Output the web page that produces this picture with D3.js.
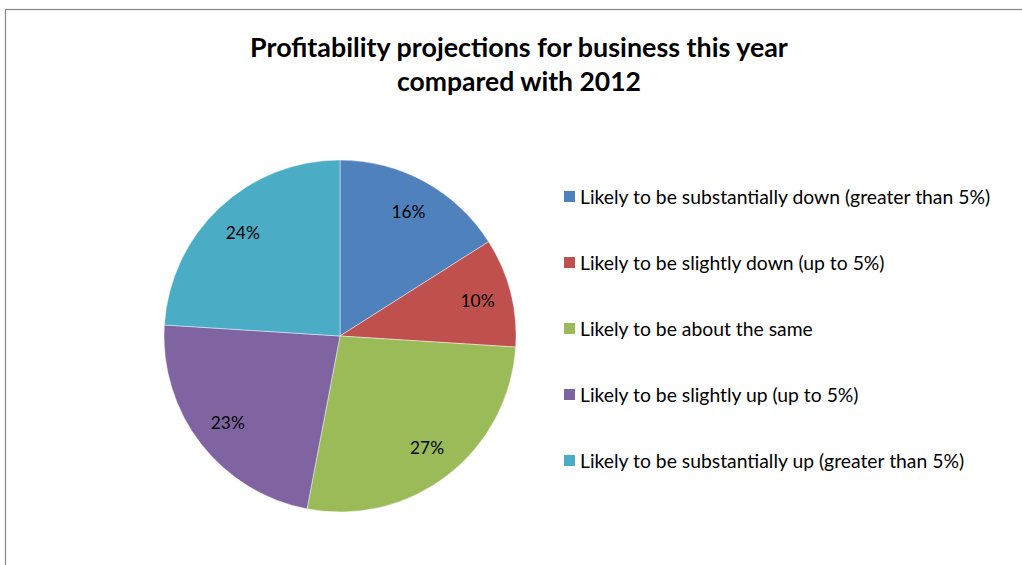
<!DOCTYPE html>
<html>
<head>
<meta charset="utf-8">
<script src="https://cdn.jsdelivr.net/npm/d3@7"></script>
<style>
  html, body { margin: 0; padding: 0; background: #fff; }
  svg { display: block; }
</style>
</head>
<body>
<svg id="chart" width="1022" height="565"></svg>
<script>
// Survey answers, in drawing order (clockwise from 12 o'clock)
const categories = [
  "Likely to be substantially down (greater than 5%)",
  "Likely to be slightly down (up to 5%)",
  "Likely to be about the same",
  "Likely to be slightly up (up to 5%)",
  "Likely to be substantially up (greater than 5%)"
];
const shares = [16, 10, 27, 23, 24];
const palette = ["#4F81BD", "#C0504D", "#9BBB59", "#8064A2", "#4BACC6"];
const titleLines = ["Profitability projections for business this year", "compared with 2012"];

const FONT = "Lato, 'Open Sans', 'Noto Sans', sans-serif";
const svg = d3.select("#chart");

// Chart frame (only the top and left edges fall inside the view)
svg.append("rect")
  .attr("x", 5.5).attr("y", 9.5)
  .attr("width", 1040).attr("height", 600)
  .attr("fill", "#fff")
  .attr("stroke", "#878787").attr("stroke-width", 1.2);

// Fit a text element's width by adjusting its font size
function fitWidth(sel, target) {
  const node = sel.node();
  const fs = parseFloat(sel.attr("font-size"));
  const w = node.getComputedTextLength();
  if (w > 0) sel.attr("font-size", (fs * target / w).toFixed(2));
}

// Title
const titleY = [57, 91];
const titleWidths = [538, 244];
titleLines.forEach((t, i) => {
  const el = svg.append("text")
    .attr("x", 519).attr("y", titleY[i])
    .attr("text-anchor", "middle")
    .attr("font-family", FONT)
    .attr("font-weight", "bold")
    .attr("font-size", 22)
    .attr("fill", "#000")
    .text(t);
  fitWidth(el, titleWidths[i]);
});

// Pie
const cx = 340, cy = 336, R = 176;
const pie = d3.pie().sort(null).value(d => d);
const arcs = pie(shares);
const arc = d3.arc().innerRadius(0).outerRadius(R);
const labelArc = d3.arc().innerRadius(142).outerRadius(142);

const g = svg.append("g").attr("transform", `translate(${cx},${cy})`);
g.selectAll("path.slice")
  .data(arcs)
  .join("path")
  .attr("class", "slice")
  .attr("d", arc)
  .attr("fill", (d, i) => palette[i])
  .attr("stroke", "rgba(255,255,255,0.55)")
  .attr("stroke-width", 0.8);

const pctTexts = g.selectAll("text.pct")
  .data(arcs)
  .join("text")
  .attr("class", "pct")
  .attr("transform", d => `translate(${labelArc.centroid(d)})`)
  .attr("text-anchor", "middle")
  .attr("dy", "0.36em")
  .attr("font-family", FONT)
  .attr("font-size", 16)
  .attr("fill", "#000")
  .text(d => d.data + "%");

// Percent labels sized so "16%" spans about 34px
const pw = pctTexts.filter((d, i) => i === 0).node().getComputedTextLength();
pctTexts.attr("font-size", (16 * 34 / pw).toFixed(2));

// Legend
const legendY = d3.scalePoint()
  .domain(categories)
  .range([197, 461]);

const leg = svg.append("g");
const items = leg.selectAll("g.item")
  .data(categories)
  .join("g")
  .attr("class", "item")
  .attr("transform", d => `translate(0,${legendY(d)})`);

items.append("rect")
  .attr("x", 564).attr("y", -6)
  .attr("width", 11).attr("height", 11)
  .attr("fill", (d, i) => palette[i]);

const legTexts = items.append("text")
  .attr("x", 580).attr("y", 0)
  .attr("dy", "0.36em")
  .attr("font-family", FONT)
  .attr("font-size", 16)
  .attr("fill", "#000")
  .text(d => d);

// Size legend text so the longest entry spans its measured width
const first = legTexts.filter((d, i) => i === 0);
const w0 = first.node().getComputedTextLength();
const legendFs = 16 * 410 / w0;
legTexts.attr("font-size", legendFs.toFixed(2));
</script>
</body>
</html>
